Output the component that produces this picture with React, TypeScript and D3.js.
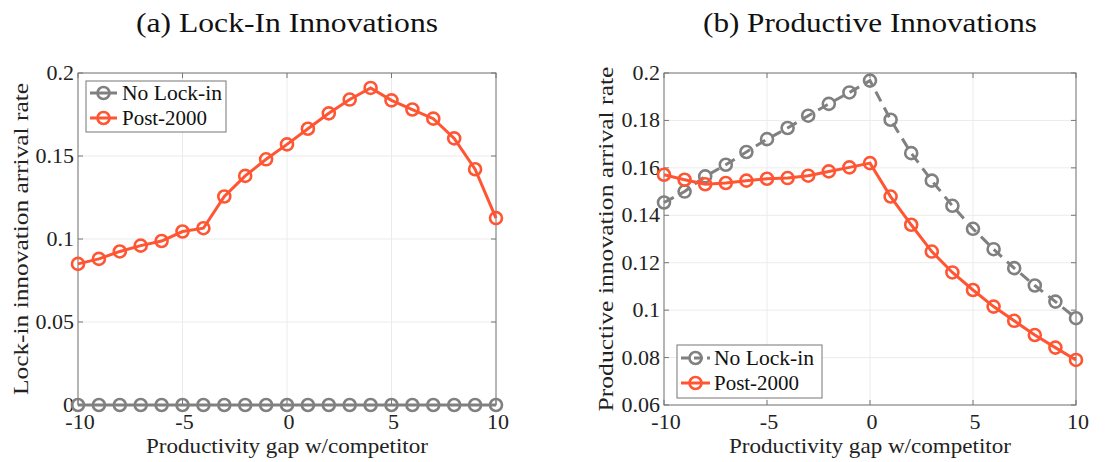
import React from "react";
import * as d3 from "d3";

const gaps = [-10, -9, -8, -7, -6, -5, -4, -3, -2, -1, 0, 1, 2, 3, 4, 5, 6, 7, 8, 9, 10];

const lockInNoLock = [0, 0, 0, 0, 0, 0, 0, 0, 0, 0, 0, 0, 0, 0, 0, 0, 0, 0, 0, 0, 0];
const lockInPost2000 = [0.085, 0.088, 0.0925, 0.096, 0.0988, 0.1045, 0.1065, 0.1256, 0.138, 0.148, 0.157, 0.1664, 0.1757, 0.184, 0.191, 0.1835, 0.178, 0.1725, 0.1606, 0.142, 0.1126];

const prodNoLock = [0.1454, 0.150, 0.1564, 0.1613, 0.1667, 0.1721, 0.1768, 0.182, 0.187, 0.1918, 0.1968, 0.1803, 0.1662, 0.1546, 0.144, 0.1343, 0.1257, 0.1177, 0.1104, 0.1036, 0.0966];
const prodPost2000 = [0.1571, 0.155, 0.1531, 0.1536, 0.1546, 0.1554, 0.1557, 0.1567, 0.1585, 0.1602, 0.162, 0.1479, 0.136, 0.1247, 0.1159, 0.1085, 0.1015, 0.0955, 0.0895, 0.0842, 0.079];

const xTicks = [-10, -5, 0, 5, 10];
const yTicksA = [0, 0.05, 0.1, 0.15, 0.2];
const yTicksB = [0.06, 0.08, 0.1, 0.12, 0.14, 0.16, 0.18, 0.2];

const seriesNames = ["No Lock-in", "Post-2000"];

const GRAY = "#808080";
const ORANGE = "#FF5533";
const FONT = "'Liberation Serif', 'DejaVu Serif', serif";

type PanelProps = {
  left: number;
  right: number;
  top: number;
  bottom: number;
  title: string;
  titleW: number;
  yLabel: string;
  yLabelW: number;
  yDomain: [number, number];
  yTicks: number[];
  gray: number[];
  orange: number[];
  grayDashed: boolean;
  legend: { x: number; y: number; w: number; h: number; r0: number; lx1: number; lx2: number; tx: number };
  yLabelX: number;
};

function Panel(p: PanelProps) {
  const x = d3.scaleLinear().domain([-10, 10]).range([p.left, p.right]);
  const y = d3.scaleLinear().domain(p.yDomain).range([p.bottom, p.top]);
  const line = d3
    .line<number>()
    .x((_, i) => x(gaps[i]))
    .y((d) => y(d));
  const fmt = (v: number) => String(+v.toFixed(3));
  const tickLen = 5;
  const markerR = 6;
  const cx = (p.left + p.right) / 2;
  const cy = (p.top + p.bottom) / 2;
  const lg = p.legend;
  const renderSeries = (vals: number[], color: string, dashed: boolean) => (
    <g>
      <path
        d={line(vals) || ""}
        fill="none"
        stroke={color}
        strokeWidth={3}
        strokeDasharray={dashed ? "11 7" : undefined}
      />
      {vals.map((v, i) => (
        <circle key={i} cx={x(gaps[i])} cy={y(v)} r={markerR} fill="none" stroke={color} strokeWidth={2.6} />
      ))}
    </g>
  );
  return (
    <g>
      <text
        x={cx}
        y={32}
        textAnchor="middle"
        fontFamily={FONT}
        fontSize={28}
        fill="#111"
        textLength={p.titleW}
        lengthAdjust="spacingAndGlyphs"
      >
        {p.title}
      </text>
      <rect x={p.left} y={p.top} width={p.right - p.left} height={p.bottom - p.top} fill="#fff" />
      {xTicks.map((t) => (
        <line key={"gx" + t} x1={x(t)} x2={x(t)} y1={p.top} y2={p.bottom} stroke="#ebebeb" strokeWidth={1} />
      ))}
      {p.yTicks.map((t) => (
        <line key={"gy" + t} x1={p.left} x2={p.right} y1={y(t)} y2={y(t)} stroke="#ebebeb" strokeWidth={1} />
      ))}
      {xTicks.map((t) => (
        <g key={"tx" + t}>
          <line x1={x(t)} x2={x(t)} y1={p.bottom} y2={p.bottom - tickLen} stroke="#777" />
          <line x1={x(t)} x2={x(t)} y1={p.top} y2={p.top + tickLen} stroke="#777" />
          <text x={x(t) + 2} y={p.bottom + 24} textAnchor="middle" fontFamily={FONT} fontSize={22} fill="#222">
            {t}
          </text>
        </g>
      ))}
      {p.yTicks.map((t) => (
        <g key={"ty" + t}>
          <line x1={p.left} x2={p.left + tickLen} y1={y(t)} y2={y(t)} stroke="#777" />
          <line x1={p.right} x2={p.right - tickLen} y1={y(t)} y2={y(t)} stroke="#777" />
          <text x={p.left - 4} y={y(t) + 7} textAnchor="end" fontFamily={FONT} fontSize={22} fill="#222">
            {fmt(t)}
          </text>
        </g>
      ))}
      <rect
        x={p.left}
        y={p.top}
        width={p.right - p.left}
        height={p.bottom - p.top}
        fill="none"
        stroke="#777"
        strokeWidth={1}
      />
      {renderSeries(p.gray, GRAY, p.grayDashed)}
      {renderSeries(p.orange, ORANGE, false)}
      <text
        x={cx}
        y={453}
        textAnchor="middle"
        fontFamily={FONT}
        fontSize={22}
        fill="#222"
        textLength={282}
        lengthAdjust="spacingAndGlyphs"
      >
        Productivity gap w/competitor
      </text>
      <text
        transform={`translate(${p.yLabelX},${cy}) rotate(-90)`}
        textAnchor="middle"
        fontFamily={FONT}
        fontSize={22}
        fill="#222"
        textLength={p.yLabelW}
        lengthAdjust="spacingAndGlyphs"
      >
        {p.yLabel}
      </text>
      <g>
        <rect x={lg.x} y={lg.y} width={lg.w} height={lg.h} fill="#fff" stroke="#777" strokeWidth={1} />
        {seriesNames.map((name, i) => {
          const ly = lg.r0 + i * 25;
          const color = i === 0 ? GRAY : ORANGE;
          const dashed = i === 0 && p.grayDashed;
          return (
            <g key={name}>
              <line
                x1={lg.lx1}
                x2={lg.lx2}
                y1={ly}
                y2={ly}
                stroke={color}
                strokeWidth={3}
                strokeDasharray={dashed ? "9 4" : undefined}
              />
              <circle cx={(lg.lx1 + lg.lx2) / 2} cy={ly} r={markerR} fill="none" stroke={color} strokeWidth={2.6} />
              <text
                x={lg.tx}
                y={ly + 7}
                fontFamily={FONT}
                fontSize={22}
                fill="#111"
                textLength={i === 0 ? 100 : 85}
                lengthAdjust="spacingAndGlyphs"
              >
                {name}
              </text>
            </g>
          );
        })}
      </g>
    </g>
  );
}

export default function App() {
  return (
    <svg
      width={1118}
      height={462}
      style={{ position: "absolute", left: 0, top: 0, background: "#fff" }}
    >
      <rect x={0} y={0} width={1118} height={462} fill="#fff" />
      <Panel
        left={78}
        right={496}
        top={73}
        bottom={405}
        title="(a) Lock-In Innovations"
        titleW={302}
        yLabel="Lock-in innovation arrival rate"
        yLabelW={312}
        yDomain={[0, 0.2]}
        yTicks={yTicksA}
        gray={lockInNoLock}
        orange={lockInPost2000}
        grayDashed={false}
        legend={{ x: 86, y: 81, w: 140, h: 51, r0: 93, lx1: 90, lx2: 117, tx: 122 }}
        yLabelX={28}
      />
      <Panel
        left={664}
        right={1076}
        top={73}
        bottom={405}
        title="(b) Productive Innovations"
        titleW={334}
        yLabel="Productive innovation arrival rate"
        yLabelW={345}
        yDomain={[0.06, 0.2]}
        yTicks={yTicksB}
        gray={prodNoLock}
        orange={prodPost2000}
        grayDashed={true}
        legend={{ x: 677, y: 345, w: 145, h: 53, r0: 358, lx1: 681, lx2: 710, tx: 714 }}
        yLabelX={613}
      />
    </svg>
  );
}
